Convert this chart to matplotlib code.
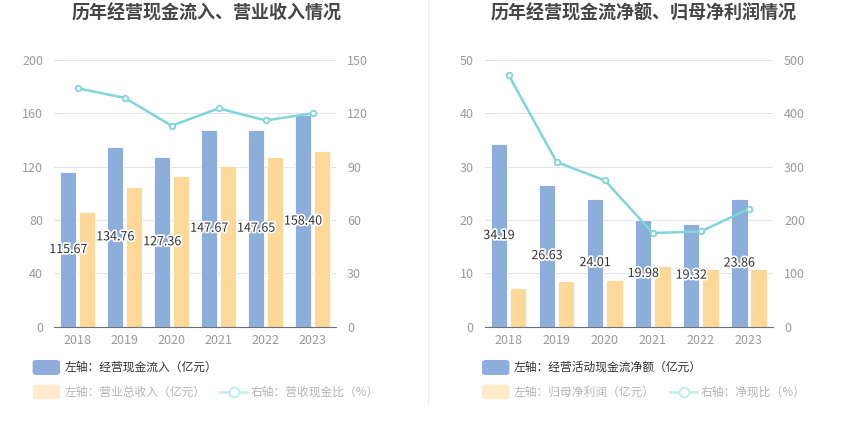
import matplotlib
matplotlib.use("Agg")
import matplotlib.pyplot as plt
import matplotlib.patheffects as pe
from matplotlib.patches import FancyBboxPatch
from matplotlib.lines import Line2D
import numpy as np

plt.rcParams['font.family'] = ['Noto Sans CJK SC', 'DejaVu Sans']

# 数据
years = ['2018', '2019', '2020', '2021', '2022', '2023']
inflow = [115.67, 134.76, 127.36, 147.67, 147.65, 158.40]      # 经营现金流入（亿元）
revenue = [86.25, 104.75, 112.75, 120.25, 127.25, 132.0]        # 营业总收入（亿元）
cash_ratio = [134.1, 128.7, 113.0, 122.8, 116.0, 120.0]         # 营收现金比（%）
net_cf = [34.19, 26.63, 24.01, 19.98, 19.32, 23.86]             # 经营活动现金流净额（亿元）
net_profit = [7.25, 8.63, 8.75, 11.38, 10.81, 10.81]            # 归母净利润（亿元）
net_ratio = [471.6, 308.6, 274.4, 175.6, 178.7, 220.7]          # 净现比（%）

BLUE = '#8daedb'
ORANGE = '#fed898'
TEAL = '#7fd5d8'
GRID = '#e0e6f1'
TICK = '#9a9a9a'

W, H = 850, 436
fig = plt.figure(figsize=(W / 100, H / 100), dpi=100)


def fx(x):
    return x / W


def fy(y):
    return 1 - y / H


def panel(rect, bars1, bars2, line, lmax, rmax, nticks=5):
    ax = fig.add_axes(rect)
    x = np.arange(len(years))
    ax.bar(x - 0.2, bars1, width=0.34, color=BLUE, edgecolor='white', linewidth=0.6, zorder=2)
    ax.bar(x + 0.2, bars2, width=0.34, color=ORANGE, edgecolor='white', linewidth=0.6, zorder=2)
    for xi, v in zip(x, bars1):
        ax.text(xi - 0.2, v / 2, f'{v:.2f}', ha='center', va='center', fontsize=9,
                color='#333333', zorder=5,
                path_effects=[pe.withStroke(linewidth=2.5, foreground='white')])
    ax.set_xlim(-0.5, len(years) - 0.5)
    ax.set_ylim(0, lmax)
    ax.set_yticks(np.linspace(0, lmax, nticks + 1))
    ax.set_yticklabels([f'{v:g}' for v in np.linspace(0, lmax, nticks + 1)])
    ax.set_xticks(x)
    ax.set_xticklabels(years)
    ax.grid(axis='y', color=GRID, linewidth=0.8, zorder=0)
    ax.set_axisbelow(True)
    for s in ['top', 'right', 'left']:
        ax.spines[s].set_visible(False)
    ax.spines['bottom'].set_color('#6e7079')
    ax.spines['bottom'].set_linewidth(0.8)
    ax.tick_params(axis='both', length=0, colors=TICK, labelsize=9)
    ax.tick_params(axis='y', pad=8)
    ax.tick_params(axis='x', pad=5)

    ax2 = ax.twinx()
    ax2.plot(x, line, color=TEAL, linewidth=1.8, marker='o', markersize=4,
             markerfacecolor='white', markeredgecolor=TEAL, markeredgewidth=1.3, zorder=4)
    ax2.set_ylim(0, rmax)
    ax2.set_yticks(np.linspace(0, rmax, nticks + 1))
    ax2.set_yticklabels([f'{v:g}' for v in np.linspace(0, rmax, nticks + 1)])
    for s in ax2.spines.values():
        s.set_visible(False)
    ax2.tick_params(axis='y', length=0, colors=TICK, labelsize=9, pad=8)
    return ax


def legend(x0, row1, row2a, row2b, line_x):
    # 行1
    fig.patches.append(FancyBboxPatch((fx(x0), fy(374.3)), fx(26), 13.6 / H,
                                      boxstyle='round,pad=0,rounding_size=0.004',
                                      transform=fig.transFigure, color=BLUE))
    fig.text(fx(x0 + 31), fy(367.5), row1, fontsize=8.5, color='#333333', va='center')
    # 行2（淡色）
    fig.patches.append(FancyBboxPatch((fx(x0), fy(398.7)), fx(26), 13.6 / H,
                                      boxstyle='round,pad=0,rounding_size=0.004',
                                      transform=fig.transFigure, color='#feebcc'))
    fig.text(fx(x0 + 31), fy(392), row2a, fontsize=8.5, color='#b5b5b5', va='center')
    fig.lines.append(Line2D([fx(line_x), fx(line_x + 27)], [fy(392), fy(392)],
                            transform=fig.transFigure, color='#c3eef0', linewidth=1.8))
    fig.lines.append(Line2D([fx(line_x + 13.5)], [fy(392)], transform=fig.transFigure,
                            marker='o', markersize=7, markerfacecolor='white',
                            markeredgecolor='#c3eef0', markeredgewidth=1.5))
    fig.text(fx(line_x + 31), fy(392), row2b, fontsize=8.5, color='#b5b5b5', va='center')


panel([fx(54.3), fy(326.7), fx(336 - 54.3), (326.7 - 60) / H], inflow, revenue, cash_ratio, 200, 150)
panel([fx(484.6), fy(326.7), fx(773 - 484.6), (326.7 - 60) / H], net_cf, net_profit, net_ratio, 50, 500)

fig.text(fx(207), fy(13.5), '历年经营现金流入、营业收入情况', ha='center', va='center',
         fontsize=13, fontweight='bold', color='#464646')
fig.text(fx(644), fy(13.5), '历年经营现金流净额、归母净利润情况', ha='center', va='center',
         fontsize=13, fontweight='bold', color='#464646')

# 中间分隔线
fig.lines.append(Line2D([fx(427.5), fx(427.5)], [fy(0), fy(405)], transform=fig.transFigure,
                        color='#eeeeee', linewidth=0.8))

legend(33.3, '左轴：经营现金流入（亿元）', '左轴：营业总收入（亿元）', '右轴：营收现金比（%）', 220)
legend(482.7, '左轴：经营活动现金流净额（亿元）', '左轴：归母净利润（亿元）', '右轴：净现比（%）', 670)

fig.savefig('out.png', dpi=100, facecolor='white')
